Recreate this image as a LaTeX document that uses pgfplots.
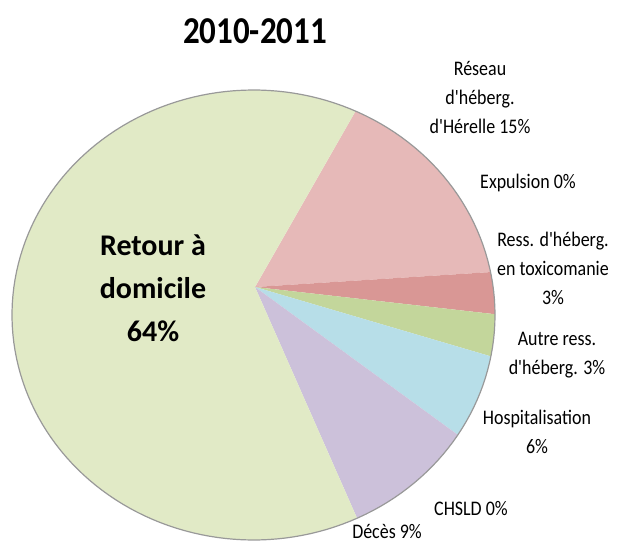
\documentclass[border=0pt]{standalone}
\usepackage{fontspec}
\setmainfont{Carlito}
\usepackage{pgfplots}
\usepackage{pgfplotstable}
\pgfplotsset{compat=1.18}

\definecolor{cRetour}{HTML}{E1EAC6}
\definecolor{cReseau}{HTML}{E6B9B8}
\definecolor{cExpul}{HTML}{D7E4BD}
\definecolor{cRess}{HTML}{D99795}
\definecolor{cAutre}{HTML}{C3D69B}
\definecolor{cHosp}{HTML}{B7DEE8}
\definecolor{cCHSLD}{HTML}{FCD5B5}
\definecolor{cDeces}{HTML}{CCC1DA}

% slices clockwise from the Retour/Reseau boundary
\pgfplotstableread{
name      pct col
Reseau    15  cReseau
Expulsion 0   cExpul
Ress      3   cRess
Autre     3   cAutre
Hosp      6   cHosp
CHSLD     0   cCHSLD
Deces     9   cDeces
Retour    64  cRetour
}\piedata

% pie geometry in picture pixels
\def\cx{253.5}\def\cy{315}\def\rx{241.5}\def\ry{225}
\def\ax{255}\def\ay{287}
\def\startang{65}

\newcommand{\q}{\textquotesingle}
\newcommand{\lbl}[1]{\scalebox{0.97}[1.12]{\fontsize{18.5}{26}\selectfont\begin{tabular}{@{}c@{}}#1\end{tabular}}}

\begin{document}
\begin{tikzpicture}
\begin{axis}[width=618pt,height=543pt,scale only axis,xmin=0,xmax=618,ymin=0,ymax=543,y dir=reverse,hide axis,clip=false]
\path (rel axis cs:0,0) (rel axis cs:1,1);
\pgfmathsetmacro{\cur}{\startang}
\pgfplotsforeachungrouped \i in {0,...,7}{%
  \pgfplotstablegetelem{\i}{pct}\of\piedata \let\p=\pgfplotsretval
  \pgfplotstablegetelem{\i}{col}\of\piedata \let\c=\pgfplotsretval
  \pgfmathsetmacro{\nxt}{\cur-3.6*\p}
  \pgfmathparse{\p>0}
  \ifnum\pgfmathresult=1
    \edef\cmd{\noexpand\addplot[fill=\c,draw=none,domain=\nxt:\cur,samples=80]
      ({\cx+\rx*cos(x)},{\cy-\ry*sin(x)}) -- (axis cs:\ax,\ay) -- cycle;}
    \cmd
  \fi
  \global\let\cur\nxt
}
\addplot[draw=black!40,line width=1.2pt,domain=0:360,samples=180] ({\cx+\rx*cos(x)},{\cy-\ry*sin(x)});

\node at (axis cs:255,31) {\scalebox{1}[1.15]{\fontsize{33}{38}\bfseries\selectfont 2010-2011}};
\node at (axis cs:153,290) {\fontsize{30}{43}\bfseries\selectfont\begin{tabular}{@{}c@{}}Retour à\\domicile\\64\%\end{tabular}};
\node at (axis cs:480,99) {\lbl{Réseau\\d\q héberg.\\d\q Hérelle 15\%}};
\node at (axis cs:528,183) {\lbl{Expulsion 0\%}};
\node at (axis cs:553,270) {\lbl{Ress. d\q héberg.\\en toxicomanie\\3\%}};
\node at (axis cs:557,354) {\lbl{Autre ress.\\d\q héberg. 3\%}};
\node at (axis cs:537,433) {\lbl{Hospitalisation\\6\%}};
\node at (axis cs:471,510) {\lbl{CHSLD 0\%}};
\node at (axis cs:387,533) {\lbl{Décès 9\%}};
\end{axis}
\end{tikzpicture}
\end{document}
